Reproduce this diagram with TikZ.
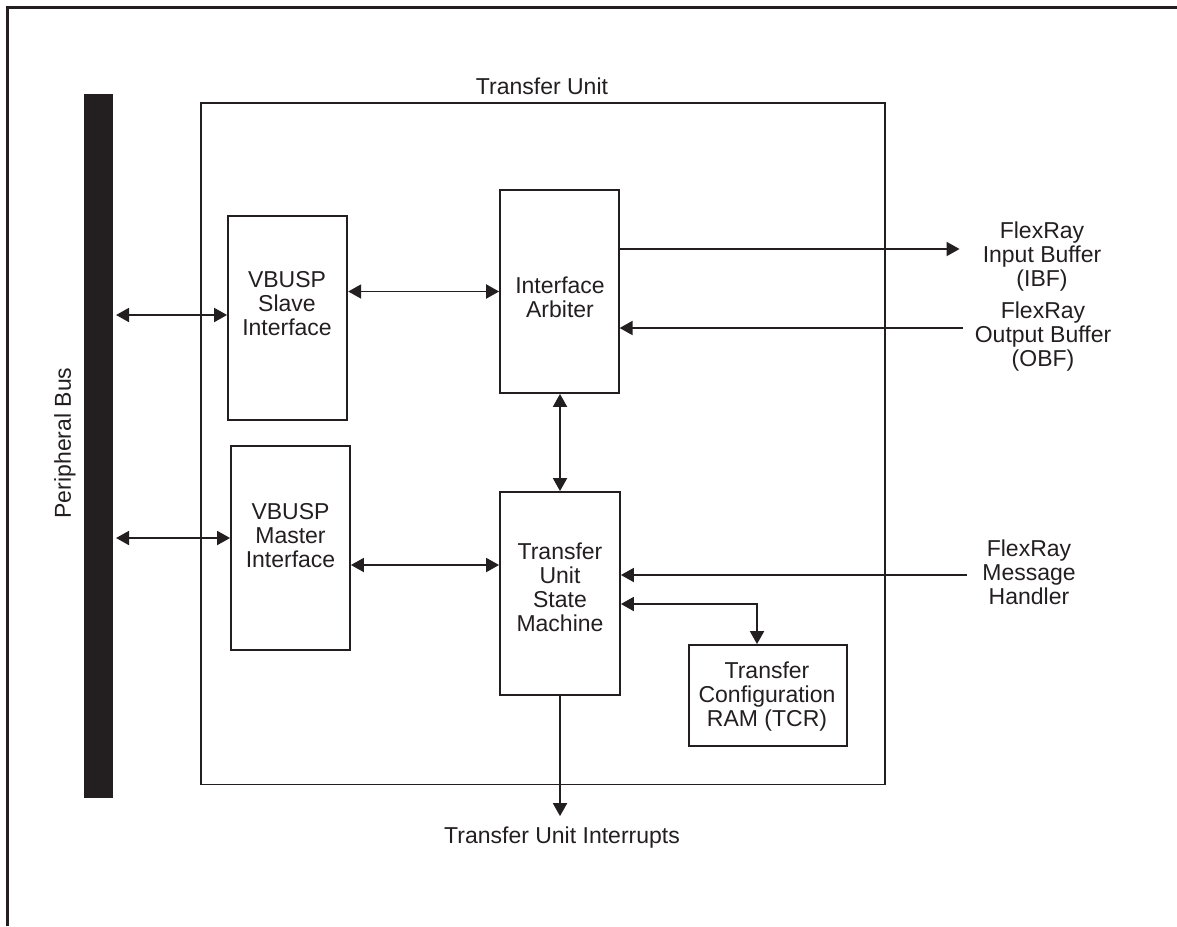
\documentclass[tikz,border=0pt]{standalone}
\usepackage{fontspec}
\setmainfont{Liberation Sans}
\usetikzlibrary{arrows.meta}
\definecolor{ink}{RGB}{35,31,32}
\begin{document}
\begin{tikzpicture}[x=1pt,y=-1pt,
  box/.style={draw=ink, line width=1.8pt, inner sep=0pt},
  txt/.style={inner sep=0pt, align=center, text=ink, font=\fontsize{23}{24}\selectfont},
  conn/.style={draw=ink, line width=1.9pt},
  sgl/.style={conn, -{Triangle[length=13pt,width=14pt]}},
  dbl/.style={conn, {Triangle[length=13pt,width=14pt]}-{Triangle[length=13pt,width=14pt]}}]
\useasboundingbox (0,0) rectangle (1177,926);
% outer frame (partial)
\draw[ink, line width=2.5pt] (7.5,926) -- (7.5,7.5) -- (1177,7.5);
% peripheral bus
\node (bus) [box, fill=ink, minimum width=26.7pt, minimum height=702pt] at (98.3,446) {};
\node (buslbl) [txt, rotate=90] at (65,443) {Peripheral Bus};
% transfer unit
\node (tu) [box, minimum width=684.3pt, minimum height=681.5pt] at (542.85,443.75) {};
\node (tulbl) [txt, anchor=base] at (542,94) {Transfer Unit};
% blocks
\node (slave) [box, minimum width=119.3pt, minimum height=204.3pt] at (287.65,317.85) {};
\node (slavetxt) [txt, anchor=north] at (287,271.7) {VBUSP\\Slave\\Interface};
\node (master) [box, minimum width=119pt, minimum height=204pt] at (290.5,548) {};
\node (mastertxt) [txt, anchor=north] at (290.5,503) {VBUSP\\Master\\Interface};
\node (arb) [box, minimum width=118.7pt, minimum height=203pt] at (559.35,291.5) {};
\node (arbtxt) [txt, anchor=north] at (560,276.5) {Interface\\Arbiter};
\node (sm) [box, minimum width=120pt, minimum height=203pt] at (560,593.5) {};
\node (smtxt) [txt, anchor=north] at (560,542.5) {Transfer\\Unit\\State\\Machine};
\node (tcr) [box, minimum width=158pt, minimum height=101pt] at (768,695.5) {};
\node (tcrtxt) [txt, anchor=north] at (767,661.5) {Transfer\\Configuration\\RAM (TCR)};
% external labels
\node (ibf) [txt, anchor=north] at (1042,221.5) {FlexRay\\Input Buffer\\(IBF)};
\node (obf) [txt, anchor=north] at (1043,302) {FlexRay\\Output Buffer\\(OBF)};
\node (mh) [txt, anchor=north] at (1029,540) {FlexRay\\Message\\Handler};
\node (tui) [txt, anchor=base] at (562,843) {Transfer Unit Interrupts};
% connectors
\draw[dbl, shorten >=3.5pt] ([yshift=2.85pt]slave.west) -- ([yshift=2.85pt]slave.west -| bus.east);
\draw[dbl, shorten >=3.5pt] ([yshift=10pt]master.west) -- ([yshift=10pt]master.west -| bus.east);
\draw[dbl] (arb.west -| slave.east) -- (arb.west);
\draw[dbl] ([yshift=28.5pt]sm.west -| master.east) -- ([yshift=28.5pt]sm.west);
\draw[dbl] (sm.north |- arb.south) -- (sm.north);
\draw[sgl, shorten >=23pt] ([yshift=42.5pt]arb.east) -- ([yshift=42.5pt]arb.east -| ibf.west);
\draw[sgl, shorten <=12pt] ([yshift=-36.5pt]arb.east -| obf.west) -- ([yshift=-36.5pt]arb.east);
\draw[sgl, shorten <=15pt] ([yshift=18.5pt]sm.east -| mh.west) -- ([yshift=18.5pt]sm.east);
\draw[dbl] ([yshift=-10.5pt]sm.east) -| ([xshift=-11pt]tcr.north);
\draw[sgl, shorten >=10pt] (sm.south) -- (sm.south |- tui.north);
\end{tikzpicture}
\end{document}
